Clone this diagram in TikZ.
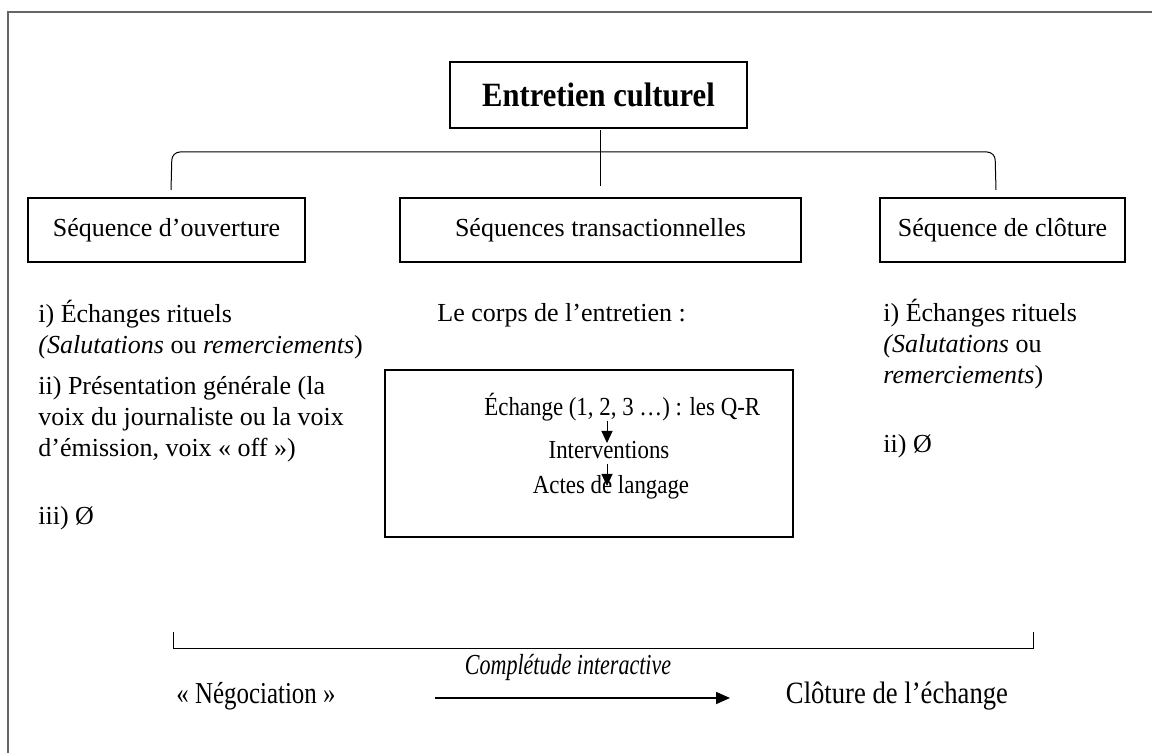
\documentclass[tikz,border=0pt]{standalone}
\usepackage{fontspec}
\setmainfont{Liberation Serif}
\newfontfamily\condfont[FakeStretch=0.82,Ligatures=TeX]{Liberation Serif}
\newfontfamily\condfontb[FakeStretch=0.86,Ligatures=TeX]{Liberation Serif}
\newfontfamily\italcond[FakeStretch=0.76,Ligatures=TeX]{Liberation Serif}
\newfontfamily\titlefont[FakeStretch=0.9,Ligatures=TeX]{Liberation Serif}
\newfontfamily\boxfont[FakeStretch=0.88,Ligatures=TeX]{Liberation Serif}
\usetikzlibrary{arrows.meta}
\begin{document}
\begin{tikzpicture}[x=0.5pt,y=-0.5pt,
  every node/.style={font=\fontsize{13}{15.5}\selectfont},
  box/.style={draw,line width=0.8pt,minimum height=32pt,inner sep=0pt},
  txt/.style={anchor=base west,inner sep=0pt,align=left},
  ctxt/.style={anchor=base,inner sep=0pt,align=center},
  lin/.style={line width=0.5pt},
  small arrow/.style={lin,-{Triangle[length=6pt,width=5.5pt]}},
  big arrow/.style={line width=0.8pt,-{Triangle[length=7pt,width=6pt]}}]
\useasboundingbox (0,0) rectangle (1152,753);
% frame
\draw[gray!80!black,line width=1pt] (8,753) -- (8,12) -- (1152,12);
% title
\node[box,minimum width=148.5pt,minimum height=33pt,font=\titlefont\fontsize{17}{20}\selectfont\bfseries] (title) at (598.5,95) {Entretien culturel};
% top bracket
\coordinate (ctop) at (600,130);
\coordinate (cbot) at (600,186);
\draw[lin] (ctop) -- (cbot);
\coordinate (bl) at (171,190);
\coordinate (br) at (996,190);
\draw[lin,rounded corners=4pt] (bl) -- (172,152) -- (995,152) -- (br);
% second-level boxes
\node[box,minimum width=138.5pt] (open) at (166.5,230) {Séquence d’ouverture};
\node[box,minimum width=200.5pt] (trans) at (600.5,230) {Séquences transactionnelles};
\node[box,minimum width=122.5pt] (close) at (1002.5,230) {Séquence de clôture};
% left column (anchor = baseline of last line)
\node[txt] (l1) at (38,354) {i) Échanges rituels\\\textit{(Salutations} ou \textit{remerciements})};
\node[txt] (l2) at (38,457) {ii) Présentation générale (la\\voix du journaliste ou la voix\\d’émission, voix «~off~»)};
\node[txt] (l3) at (38,525) {iii) Ø};
% middle column
\node[txt] (m1) at (437,322) {Le corps de l’entretien :};
\node[draw,line width=0.8pt,minimum width=204pt,minimum height=83.5pt,inner sep=0pt] (mbox) at (589,453.5) {};
\node[txt,font=\boxfont\fontsize{13}{15.5}\selectfont] (e1) at (484,416) {Échange (1, 2, 3 …) : les Q-R};
\node[ctxt,font=\boxfont\fontsize{13}{15.5}\selectfont] (e2) at (609,459) {Interventions};
\node[ctxt,font=\boxfont\fontsize{13}{15.5}\selectfont] (e3) at (611,494) {Actes de langage};
\coordinate (a1s) at (607,421);
\coordinate (a1e) at (607,443);
\coordinate (a2s) at (607,464);
\coordinate (a2e) at (607,486);
\draw[small arrow] (a1s) -- (a1e);
\draw[small arrow] (a2s) -- (a2e);
% right column
\node[txt] (r1) at (883,384) {i) Échanges rituels\\\textit{(Salutations} ou\\\textit{remerciements})};
\node[txt] (r2) at (883,453) {ii) Ø};
% bottom bracket
\coordinate (bbl) at (173,632);
\coordinate (bbr) at (1033,632);
\draw[lin] (bbl) -- (173,648) -- (1033,648) -- (bbr);
% bottom line
\node[ctxt,font=\condfont\fontsize{15.2}{18}\selectfont] (neg) at (256,703) {«~Négociation~»};
\node[ctxt,font=\condfontb\fontsize{15.5}{18}\selectfont] (clo) at (897,703) {Clôture de l’échange};
\node[ctxt,font=\italcond\fontsize{14.5}{17}\selectfont\itshape] (comp) at (568,675) {Complétude interactive};
\coordinate (as) at (435,698);
\coordinate (ae) at (730,698);
\draw[big arrow] (as) -- (ae);
\end{tikzpicture}
\end{document}
